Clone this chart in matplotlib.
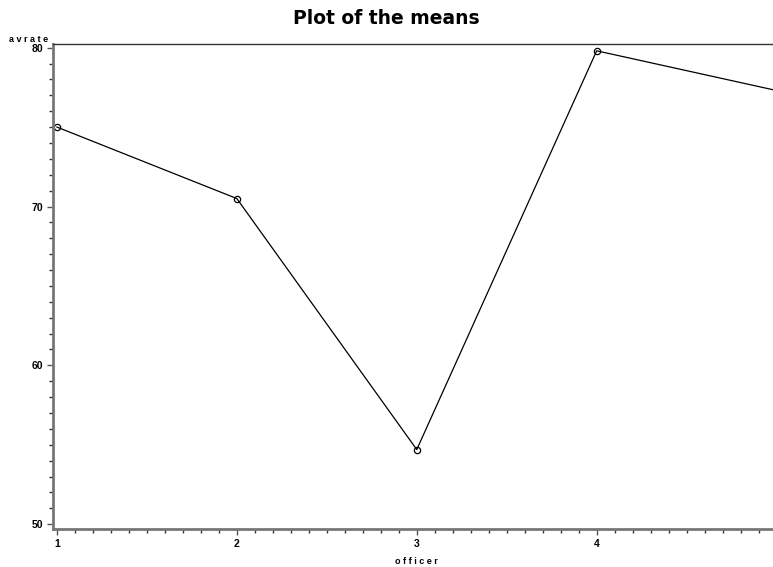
import matplotlib

matplotlib.use("Agg")
import matplotlib.pyplot as plt
from matplotlib.ticker import MultipleLocator

# means of avrate per officer (point 5 lies just past the right edge)
officer = [1, 2, 3, 4, 5]
avrate = [75.0, 70.5, 54.7, 79.8, 77.3]
xticks = [1, 2, 3, 4]
yticks = [50, 60, 70, 80]

fig = plt.figure(figsize=(7.73, 5.67), dpi=100)
ax = fig.add_axes([0.069, 0.067, 0.931, 0.856])

ax.plot(officer, avrate, color="black", lw=0.9, marker="o", ms=4.5,
        mfc="none", mec="black", mew=0.9, clip_on=True)

ax.set_xlim(0.98, 4.98)
ax.set_ylim(49.7, 80.25)
ax.set_xticks(xticks)
ax.set_yticks(yticks)
ax.xaxis.set_minor_locator(MultipleLocator(0.1))
ax.yaxis.set_minor_locator(MultipleLocator(1))

tick_font = dict(fontsize=7.5, fontweight="bold", family="Liberation Sans")
ax.set_xticklabels([str(t) for t in xticks], **tick_font)
ax.set_yticklabels([str(t) for t in yticks], **tick_font)
ax.tick_params(axis="both", which="major", length=4, width=1, color="#555555", pad=3)
ax.tick_params(axis="both", which="minor", length=3, width=1, color="#333333")

ax.spines["right"].set_visible(False)
for s in ("left", "bottom"):
    ax.spines[s].set_color("#777777")
    ax.spines[s].set_linewidth(2)
ax.spines["top"].set_color("#333333")
ax.spines["top"].set_linewidth(1)

fig.text(0.5, 0.968, "Plot of the means", ha="center", va="center",
         fontsize=13.5, fontweight="bold", family="DejaVu Sans")
fig.text(0.037, 0.93, "a v r a t e", ha="center", va="center",
         fontsize=6.5, fontweight="bold", family="Liberation Sans")
fig.text(0.539, 0.01, "o f f i c e r", ha="center", va="center",
         fontsize=6.5, fontweight="bold", family="Liberation Sans")

fig.savefig("out.png", dpi=100)
